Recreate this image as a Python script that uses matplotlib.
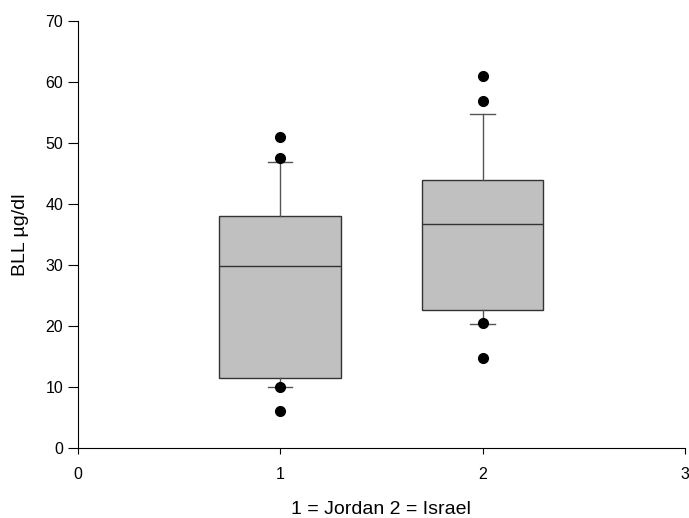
import matplotlib.pyplot as plt

plt.rcParams['font.family'] = ['Liberation Sans', 'DejaVu Sans']

# box statistics
positions = [1, 2]
q1 = [11.5, 22.6]
medians = [29.8, 36.7]
q3 = [38.0, 43.9]
whisker_low = [10.0, 20.3]
whisker_high = [46.9, 54.8]
outliers = [[51.0, 47.5, 10.0, 6.1], [61.0, 56.9, 20.5, 14.7]]

stats = []
for i in range(len(positions)):
    stats.append({
        "q1": q1[i], "med": medians[i], "q3": q3[i],
        "whislo": whisker_low[i], "whishi": whisker_high[i],
        "fliers": outliers[i],
    })

fig = plt.figure(figsize=(6.89, 5.18), dpi=100)
ax = fig.add_axes([0.113, 0.135, 0.881, 0.8245])

ax.bxp(stats, positions=positions, widths=0.6, patch_artist=True,
       capwidths=0.12,
       boxprops=dict(facecolor="#c0c0c0", edgecolor="#333333", linewidth=1),
       medianprops=dict(color="#333333", linewidth=1),
       whiskerprops=dict(color="#555555", linewidth=1),
       capprops=dict(color="#555555", linewidth=1),
       flierprops=dict(marker="o", markerfacecolor="black",
                       markeredgecolor="black", markersize=7))

ax.set_xlim(0, 3)
ax.set_ylim(0, 70)
ax.set_xticks([0, 1, 2, 3])
ax.set_xticklabels(["0", "1", "2", "3"])
ax.set_yticks(range(0, 71, 10))
ax.spines["top"].set_visible(False)
ax.spines["right"].set_visible(False)
ax.tick_params(axis="y", direction="out", length=7, labelsize=11.5, pad=3.5)
ax.tick_params(axis="x", direction="out", length=4.3, labelsize=11.5, pad=9)
ax.set_ylabel("BLL µg/dl", fontsize=14, labelpad=12)
ax.set_xlabel("1 = Jordan 2 = Israel", fontsize=14, labelpad=14)

fig.savefig("out.png", dpi=100)
